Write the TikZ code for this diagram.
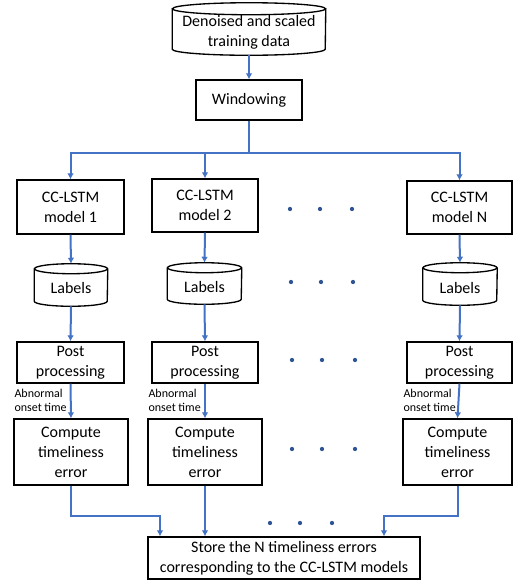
\documentclass[tikz,border=0pt]{standalone}
\usepackage{fontspec}
\setmainfont{Carlito}
\usetikzlibrary{arrows.meta}
\definecolor{lnblue}{HTML}{4472C4}
\definecolor{dotblue}{HTML}{2F5597}
\newcommand{\cylbody}[3]{% name, rx, ry
  \draw[black,line width=1pt] ([yshift=-#3*0.75pt]#1.north) ellipse ({#2*0.75pt} and {#3*0.75pt});
  \draw[black,line width=1pt] ([yshift=-#3*0.75pt]#1.north west) -- ([yshift=#3*0.75pt]#1.south west)
     arc (180:360:{#2*0.75pt} and {#3*0.75pt}) -- ([yshift=-#3*0.75pt]#1.north east);
}
\begin{document}
\begin{tikzpicture}[x=0.75pt,y=0.75pt,
  box/.style={draw=black,line width=1pt,align=center,inner sep=0pt,font=\fontsize{12}{15}\selectfont},
  cyl/.style={align=center,inner sep=0pt,font=\fontsize{12}{15}\selectfont},
  arr/.style={draw=lnblue,line width=1.5pt,-{Latex[length=4.5pt,width=5pt]}},
  ln/.style={draw=lnblue,line width=1.5pt},
  small/.style={align=left,inner sep=0pt,font=\fontsize{9}{11}\selectfont},
  dot/.style={circle,fill=dotblue,inner sep=0pt,minimum size=3.2pt}]
\useasboundingbox (0,0) rectangle (513,-583);
% top
\node[cyl,minimum width=153*0.75pt,minimum height=52*0.75pt] (data) at (249,-29) {};
\node[cyl] (datat) at (249,-32) {Denoised and scaled\\training data};
\cylbody{data}{76.5}{6}
\node[box,minimum width=106*0.75pt,minimum height=40*0.75pt] (win) at (249,-100) {Windowing};
\draw[arr] (data.south) -- (win.north);
% models
\node[box,minimum width=107*0.75pt,minimum height=54*0.75pt] (m1) at (70.5,-207) {CC-LSTM\\model 1};
\node[box,minimum width=106*0.75pt,minimum height=53*0.75pt] (m2) at (205,-205.5) {CC-LSTM\\model 2};
\node[box,minimum width=105*0.75pt,minimum height=53*0.75pt] (mN) at (459.5,-207.5) {CC-LSTM\\model N};
\coordinate (sp) at (249,-153);
\draw[ln] (win.south) -- (sp);
\draw[arr] (sp) -| (m1.north);
\draw[arr] (sp) -| (m2.north);
\draw[arr] (sp) -| (mN.north);
% labels
\node[cyl,minimum width=73*0.75pt,minimum height=42*0.75pt] (L1) at (71,-285) {};
\node[cyl,minimum width=74*0.75pt,minimum height=41*0.75pt] (L2) at (204.5,-283.5) {};
\node[cyl,minimum width=74*0.75pt,minimum height=42*0.75pt] (LN) at (460,-284) {};
\node[cyl] (L1t) at (71,-288) {Labels};
\node[cyl] (L2t) at (204.5,-287) {Labels};
\node[cyl] (LNt) at (460,-287.5) {Labels};
\cylbody{L1}{36.5}{5}
\cylbody{L2}{37}{5}
\cylbody{LN}{37}{5}
\draw[arr] (m1.south) -- (L1.north);
\draw[arr] (m2.south) -- (L2.north);
\draw[arr] (mN.south) -- (LN.north);
% post processing
\node[box,minimum width=107*0.75pt,minimum height=41*0.75pt] (P1) at (70.5,-362.5) {Post\\processing};
\node[box,minimum width=106*0.75pt,minimum height=41*0.75pt] (P2) at (205,-362.5) {Post\\processing};
\node[box,minimum width=105*0.75pt,minimum height=41*0.75pt] (PN) at (459.5,-362.5) {Post\\processing};
\draw[arr] (L1.south) -- (P1.north);
\draw[arr] (L2.south) -- (P2.north);
\draw[arr] (LN.south) -- (PN.north);
% compute
\node[box,minimum width=114*0.75pt,minimum height=66*0.75pt] (C1) at (71,-452) {Compute\\timeliness\\error};
\node[box,minimum width=114*0.75pt,minimum height=66*0.75pt] (C2) at (205,-452) {Compute\\timeliness\\error};
\node[box,minimum width=109*0.75pt,minimum height=66*0.75pt] (CN) at (457.5,-452) {Compute\\timeliness\\error};
\draw[arr] (P1.south) -- (C1.north);
\draw[arr] (P2.south) -- (C2.north);
\draw[arr] (PN.south) -- (CN.north);
\node[small,anchor=east] (a1) at (67,-400.5) {Abnormal\\onset time};
\node[small,anchor=east] (a2) at (201,-400.5) {Abnormal\\onset time};
\node[small,anchor=east] (aN) at (456,-400.5) {Abnormal\\onset time};
% store
\node[box,minimum width=272*0.75pt,minimum height=42*0.75pt] (S) at (284,-558) {Store the N timeliness errors\\corresponding to the CC-LSTM models};
\coordinate (j1) at (160,-516);
\coordinate (jN) at (384,-516);
\draw[arr] (C1.south) |- (j1) -- (j1 |- S.north);
\draw[arr] (C2.south) -- (C2.south |- S.north);
\draw[arr] (CN.south) |- (jN) -- (jN |- S.north);
% dots
\foreach \y/\a/\b/\c [count=\i] in {209/290/320/352, 282/291/321/353, 360/292/322/355, 449/292/322/355, 523/270/300/332}{
  \node[dot] (d\i a) at (\a,-\y) {};
  \node[dot] (d\i b) at (\b,-\y) {};
  \node[dot] (d\i c) at (\c,-\y) {};
}
\end{tikzpicture}
\end{document}
